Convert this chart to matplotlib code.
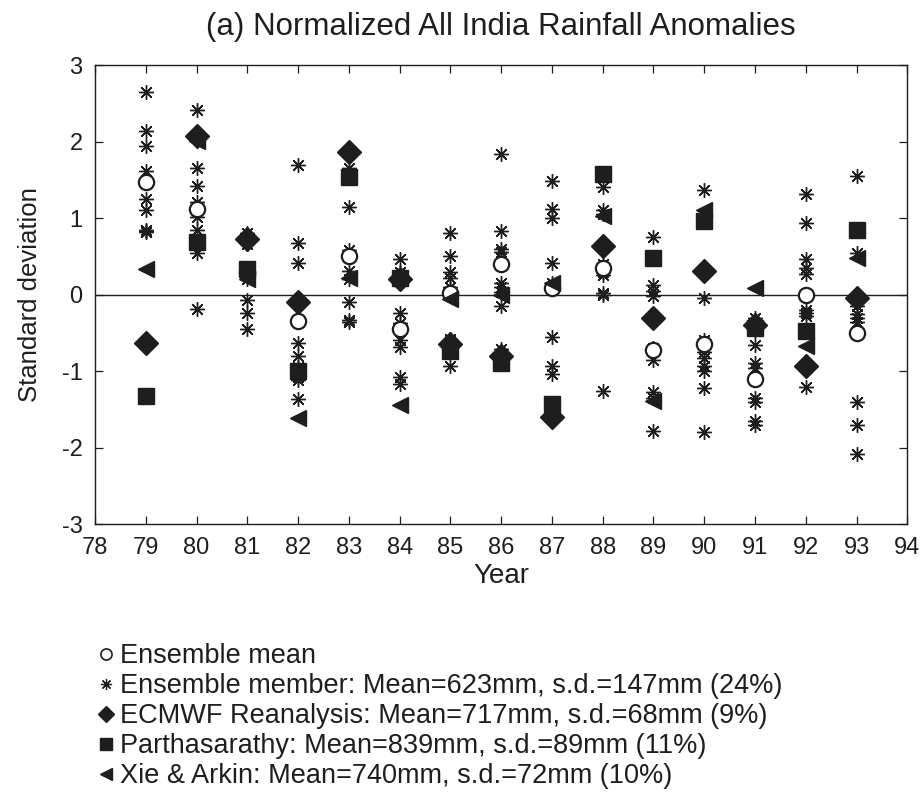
import matplotlib
matplotlib.use("Agg")
import matplotlib.pyplot as plt
from matplotlib.lines import Line2D

plt.rcParams['font.family'] = ['Liberation Sans', 'DejaVu Sans']
plt.rcParams['axes.unicode_minus'] = False

years = [79, 80, 81, 82, 83, 84, 85, 86, 87, 88, 89, 90, 91, 92, 93]

# Ensemble members (9 per year)
members = {
    79: [2.65, 2.14, 1.94, 1.62, 1.25, 1.10, 0.85, 0.83, 0.82],
    80: [2.41, 1.66, 1.42, 1.21, 1.15, 1.01, 0.84, 0.54, -0.19],
    81: [0.80, 0.75, 0.70, 0.66, 0.35, 0.20, -0.07, -0.24, -0.45],
    82: [1.70, 0.68, 0.41, -0.63, -0.80, -0.95, -1.08, -1.12, -1.36],
    83: [1.65, 1.55, 1.14, 0.58, 0.31, 0.20, -0.10, -0.33, -0.36],
    84: [0.46, 0.30, 0.22, -0.24, -0.37, -0.60, -0.69, -1.08, -1.17],
    85: [0.81, 0.50, 0.30, 0.22, 0.10, -0.58, -0.60, -0.75, -0.93],
    86: [1.84, 0.83, 0.60, 0.56, 0.15, 0.10, 0.04, -0.15, -0.71],
    87: [1.48, 1.12, 1.00, 0.41, 0.15, 0.10, -0.55, -0.93, -1.04],
    88: [1.40, 1.10, 1.05, 0.40, 0.30, 0.26, 0.02, 0.00, -1.26],
    89: [0.75, 0.12, 0.05, -0.02, -0.70, -0.85, -1.28, -1.35, -1.78],
    90: [1.37, -0.04, -0.60, -0.75, -0.83, -0.94, -1.00, -1.22, -1.80],
    91: [-0.31, -0.40, -0.66, -0.90, -0.96, -1.35, -1.40, -1.65, -1.70],
    92: [1.31, 0.93, 0.47, 0.35, 0.27, -0.20, -0.24, -0.28, -1.21],
    93: [1.55, 0.55, -0.15, -0.25, -0.30, -0.36, -1.41, -1.71, -2.08],
}
ens_mean = [1.47, 1.12, 0.30, -0.35, 0.50, -0.45, 0.02, 0.40, 0.08, 0.35, -0.73, -0.64, -1.11, 0.00, -0.50]
ecmwf = [-0.63, 2.07, 0.73, -0.10, 1.86, 0.20, -0.65, -0.80, -1.60, 0.64, -0.30, 0.31, -0.40, -0.93, -0.04]
partha = [-1.32, 0.69, 0.34, -1.00, 1.54, 0.22, -0.74, -0.89, -1.43, 1.58, 0.48, 0.96, -0.44, -0.47, 0.84]
xie = [0.33, 2.01, 0.20, -1.62, 0.22, -1.45, -0.06, 0.00, 0.15, 1.03, -1.39, 1.11, 0.09, -0.67, 0.48]

legend_labels = [
    "Ensemble mean",
    "Ensemble member: Mean=623mm, s.d.=147mm (24%)",
    "ECMWF Reanalysis: Mean=717mm, s.d.=68mm (9%)",
    "Parthasarathy: Mean=839mm, s.d.=89mm (11%)",
    "Xie & Arkin: Mean=740mm, s.d.=72mm (10%)",
]

ink = "#1e1e1e"
fig = plt.figure(figsize=(9.23, 7.94), dpi=100)
ax = fig.add_axes([0.103, 0.34, 0.880, 0.578])

ast = (8, 2, 0)
mx = [y for y in years for _ in members[y]]
my = [v for y in years for v in members[y]]
ax.plot(mx, my, linestyle='none', marker=ast, markersize=10.5, markeredgewidth=1.0,
        color=ink, zorder=3)
ax.plot(years, ens_mean, linestyle='none', marker='o', markersize=11, mfc='white',
        mec=ink, markeredgewidth=1.6, zorder=4)
ax.plot(years, xie, linestyle='none', marker='<', markersize=11, color=ink, zorder=5)
ax.plot(years, ecmwf, linestyle='none', marker='D', markersize=12, color=ink, zorder=6)
ax.plot(years, partha, linestyle='none', marker='s', markersize=11, color=ink, zorder=7)

ax.axhline(0, color=ink, linewidth=1.0, zorder=2)

ax.set_xlim(78, 94)
ax.set_ylim(-3, 3)
ax.set_xticks(range(78, 95))
ax.set_yticks(range(-3, 4))
ax.tick_params(direction='in', top=True, right=True, length=6, width=0.9,
               labelsize=17, colors=ink, pad=9)
for s in ax.spines.values():
    s.set_linewidth(1.0)
    s.set_color(ink)

ax.set_xlabel("Year", fontsize=20, color=ink, labelpad=3)
ax.set_ylabel("Standard deviation", fontsize=18.5, color=ink, labelpad=14)
ax.set_title("(a) Normalized All India Rainfall Anomalies", fontsize=22.5,
             color=ink, pad=22)

handles = [
    Line2D([], [], linestyle='none', marker='o', markersize=8, mfc='white', mec=ink, markeredgewidth=1.2),
    Line2D([], [], linestyle='none', marker=ast, markersize=8, color=ink, markeredgewidth=0.9),
    Line2D([], [], linestyle='none', marker='D', markersize=8, color=ink),
    Line2D([], [], linestyle='none', marker='s', markersize=9, color=ink),
    Line2D([], [], linestyle='none', marker='<', markersize=8, color=ink),
]
fig.legend(handles, legend_labels, loc='upper left', bbox_to_anchor=(0.107, 0.19),
           frameon=False, fontsize=19.5, handlelength=0.5, handletextpad=0.3,
           labelspacing=0.15, borderaxespad=0, borderpad=0, labelcolor=ink)

fig.savefig("out.png", dpi=100, facecolor='white')
